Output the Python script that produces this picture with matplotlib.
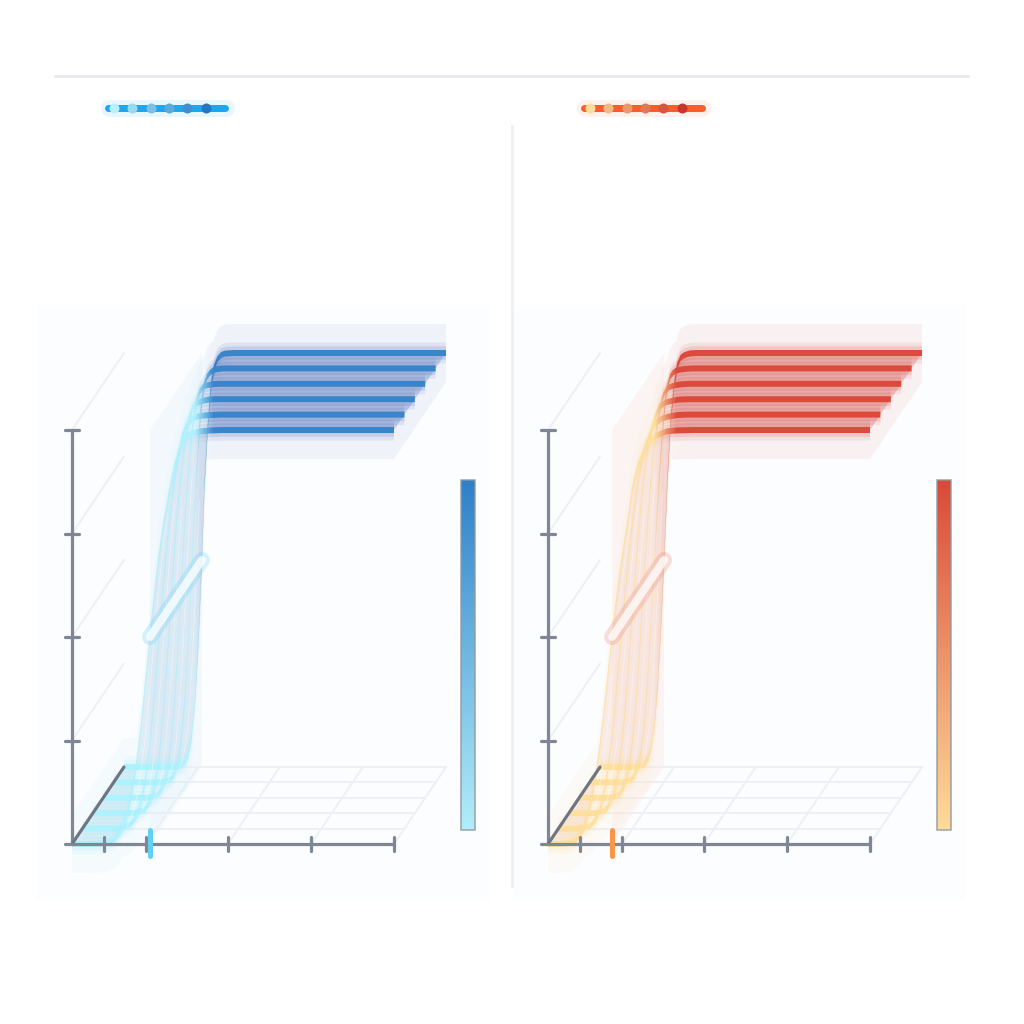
import numpy as np
import matplotlib
matplotlib.use("Agg")
import matplotlib.pyplot as plt
from matplotlib.patches import Polygon, Rectangle
from matplotlib.colors import to_rgb

# ---------- data (dose 0-100, response 0-100) ----------
blue_dose = [0, 6, 10, 13, 15, 16, 17, 18, 19, 20, 21, 22, 23, 24, 25, 26, 27, 28, 29, 30, 31, 32, 34, 36, 38, 40, 43, 47, 52, 60, 100]
blue_d0 = [0, 0, .1, .9, 2.7, 4.3, 6.6, 9.8, 14, 19.3, 25.6, 32.9, 40.6, 48.5, 56.2, 63.2, 69.6, 75, 79.6, 84, 88, 91.5, 97, 98.8, 99.4, 99.7, 99.9, 100, 100, 100, 100]
blue_d1 = [0, 0, 0, .3, 1.1, 1.9, 3.4, 5.7, 9.1, 14.1, 20.6, 28.9, 38.2, 48, 57.7, 66.4, 74.1, 81, 86, 90.5, 94.5, 97, 99, 99.6, 99.8, 99.9, 100, 100, 100, 100, 100]
blue_d2 = [0, 0, 0, .1, .4, .8, 1.7, 3.2, 5.8, 10, 16.4, 25.2, 35.7, 47.8, 59.4, 70, 79, 86, 91.5, 95.5, 98, 98.9, 99.6, 99.9, 100, 100, 100, 100, 100, 100, 100]
blue_d3 = [0, 0, 0, 0, .2, .4, .8, 1.8, 3.7, 7, 12.8, 21.7, 33.4, 47.3, 62, 74, 84, 91, 96, 98.2, 99.2, 99.6, 99.9, 100, 100, 100, 100, 100, 100, 100, 100]
blue_d4 = [0, 0, 0, 0, .1, .2, .4, 1, 2.3, 4.9, 10, 18.7, 31.2, 47, 64, 78, 89, 95.5, 98, 99, 99.6, 99.8, 100, 100, 100, 100, 100, 100, 100, 100, 100]
blue_d5 = [0, 0, 0, 0, 0, .1, .2, .5, 1.3, 3.1, 7.2, 15.3, 28.5, 46.5, 68, 82, 92, 96.5, 98.5, 99.4, 99.8, 99.9, 100, 100, 100, 100, 100, 100, 100, 100, 100]
blue_series = [blue_d0, blue_d1, blue_d2, blue_d3, blue_d4, blue_d5]

red_dose = [0, 3, 5, 7, 9, 10, 11, 12, 13, 14, 15, 16, 17, 18, 19, 20, 21, 22, 23, 24, 25, 26, 27, 28, 30, 32, 34, 37, 40, 45, 52, 60, 100]
red_d0 = [0, 0, .05, .3, 1.2, 2.2, 3.7, 5.8, 8.8, 12.6, 17.4, 23.1, 29.5, 36.6, 43.8, 50.7, 57.4, 63.4, 69, 74, 79, 85, 88.5, 91.5, 95.5, 97.6, 98.8, 99.7, 99.9, 100, 100, 100, 100]
red_d1 = [0, 0, 0, .1, .4, .8, 1.5, 2.8, 4.8, 7.9, 12.1, 17.8, 24.8, 33.2, 42.1, 51, 59.4, 66.8, 73.5, 80, 85, 89, 92, 94.5, 97.8, 99, 99.5, 99.9, 100, 100, 100, 100, 100]
red_d2 = [0, 0, 0, 0, .1, .3, .6, 1.3, 2.6, 4.8, 8.2, 13.6, 20.7, 29.9, 40.4, 51, 61.3, 71, 79, 85.5, 90, 93.5, 96, 98, 99.2, 99.6, 99.9, 100, 100, 100, 100, 100, 100]
red_d3 = [0, 0, 0, 0, 0, .1, .3, .6, 1.4, 2.9, 5.6, 10.2, 17.1, 26.9, 38.7, 51.2, 64, 74, 83, 89.5, 93.5, 97, 98.5, 99.2, 99.7, 99.9, 100, 100, 100, 100, 100, 100, 100]
red_d4 = [0, 0, 0, 0, 0, 0, .1, .3, .7, 1.7, 3.7, 7.5, 14, 24, 37.1, 51.5, 66, 78, 88, 95, 98, 99, 99.5, 99.7, 99.9, 100, 100, 100, 100, 100, 100, 100, 100]
red_d5 = [0, 0, 0, 0, 0, 0, 0, .1, .3, .9, 2.1, 5, 10.6, 20.6, 35, 51.7, 70, 84, 92, 97, 98.8, 99.4, 99.7, 99.9, 100, 100, 100, 100, 100, 100, 100, 100, 100]
red_series = [red_d0, red_d1, red_d2, red_d3, red_d4, red_d5]

x_ticks = [10, 23, 48.4, 74.2, 100]
y_ticks = [25, 50, 75, 100]
depth_levels = [0, 1, 2, 3, 4, 5]
blue_midpoint = 24.2
red_midpoint = 19.9

# ---------- layout ----------
W = 1024
PX_X, PX_Y = 3.22, 4.14          # pixels per data unit
SHEAR_X, SHEAR_Y = 10.4 / PX_X, 15.4 / PX_Y   # data units per depth step
px = 72 / 100                    # one pixel in points

AXIS = "#7f8794"
GRID = "#eef0f5"

plt.rcParams["font.family"] = "DejaVu Sans"
fig = plt.figure(figsize=(10.24, 10.24), dpi=100, facecolor="white")
chrome = fig.add_axes([0, 0, 1, 1], zorder=0)
chrome.set_xlim(0, W); chrome.set_ylim(W, 0); chrome.axis("off")
chrome.set_autoscale_on(False)


def rgba_gradient(lo, hi, alpha, a, b, x0, x1, n=900):
    xs = np.linspace(x0, x1, n)
    t = np.clip((xs - a) / (b - a), 0, 1)[None, :, None]
    lo, hi = np.array(to_rgb(lo))[None, None, :], np.array(to_rgb(hi))[None, None, :]
    rgb = lo * (1 - t) + hi * t
    return np.dstack([rgb, np.full((1, n), alpha)])


def draw_panel(ox, oy, dose, series, midpoint, lo, hi, halo_lo, halo_hi, surf_lo, tick_col, handle_col, handle_alpha, plane_col, grad, surf_alpha):
    ax = fig.add_axes([0, 0, 1, 1], zorder=1)
    ax.set_xlim(-ox / PX_X, (W - ox) / PX_X)
    ax.set_ylim(-(W - oy) / PX_Y, oy / PX_Y)
    ax.axis("off"); ax.set_facecolor("none")
    ax.set_autoscale_on(False)
    dose = np.asarray(dose, float)
    rows = [np.asarray(s, float) for s in series]
    gx0, gx1 = -8.0, 125.0
    ext = (gx0, gx1, -20, 130)
    ny = len(depth_levels) - 1
    Dx, Dy = ny * SHEAR_X, ny * SHEAR_Y

    def gimg(path_xy, alpha, z, c_lo=lo, c_hi=hi):
        patch = Polygon(path_xy, closed=True, fc="none", ec="none", transform=ax.transData, zorder=z)
        ax.add_patch(patch)
        im = ax.imshow(rgba_gradient(c_lo, c_hi, alpha, grad[0], grad[1], gx0, gx1), extent=ext,
                       aspect="auto", interpolation="nearest", zorder=z)
        im.set_clip_path(patch)

    # walls and floor grid
    for v in y_ticks:
        ax.plot([0, Dx], [v, v + Dy], color=GRID, lw=2 * px, zorder=1, solid_capstyle="round")
    for d in depth_levels[1:]:
        ax.plot([d * SHEAR_X, 100 + d * SHEAR_X], [d * SHEAR_Y] * 2, color=GRID, lw=2 * px, zorder=1)
    for t in x_ticks[1:]:
        ax.plot([t, t + Dx], [0, Dy], color=GRID, lw=2 * px, zorder=1)

    # plane at midpoint dose
    ax.add_patch(Polygon([(midpoint, 0), (midpoint, 100), (midpoint + Dx, 100 + Dy), (midpoint + Dx, Dy)],
                         closed=True, fc=plane_col, ec="none", alpha=0.4, zorder=2))

    # outer halo: envelope of all ribbons
    xs = np.linspace(0, 100 + Dx, 1500)
    stack = np.array([np.interp(xs, dose + d * SHEAR_X, r + d * SHEAR_Y, left=np.nan, right=np.nan)
                      for d, r in zip(depth_levels, rows)])
    up = np.nanmax(stack, axis=0)
    lowr = np.nanmin(stack, axis=0)
    up = np.maximum(up, np.where(xs < Dx, xs / SHEAR_X * SHEAR_Y, -1e3))
    lowr = np.minimum(lowr, np.where(xs > 100, 100 + (xs - 100) / SHEAR_X * SHEAR_Y, 1e3))
    H = 29 / PX_Y
    gimg(np.r_[np.c_[xs, up + H], np.c_[xs[::-1], (lowr - H)[::-1]]], 0.07, 3, c_lo=halo_lo, c_hi=halo_hi)

    # surface between first and last ribbons
    a = np.c_[dose, rows[0]]
    b = np.c_[dose + Dx, rows[-1] + Dy]
    gimg(np.r_[a, b[::-1]], surf_alpha, 4, c_lo=surf_lo, c_hi=halo_hi)

    # ribbons, back to front
    z = 5
    for d in depth_levels[::-1]:
        r = rows[d]
        x = dose + d * SHEAR_X
        y = r + d * SHEAR_Y
        for hw, alpha in ((10.5, 0.1), (6.7, 0.16)):
            h = hw / PX_Y
            gimg(np.r_[np.c_[x, y + h], np.c_[x[::-1], (y - h)[::-1]]], alpha, z, c_lo=halo_lo, c_hi=halo_hi)
            z += 0.1
        h = 3.0 / PX_Y
        gimg(np.r_[np.c_[x, y + h], np.c_[x[::-1], (y - h)[::-1]]], 1.0, z)
        z += 0.1

    # fine white wires between ribbons on the riser
    for d in depth_levels[:-1]:
        for frac in (0.5,):
            rm = rows[d] * (1 - frac) + rows[d + 1] * frac
            keep = (rm > 1) & (rm < 80)
            ax.plot((dose + (d + frac) * SHEAR_X)[keep], (rm + (d + frac) * SHEAR_Y)[keep],
                    color="white", lw=0.6 * px, alpha=0.55, zorder=z)

    # midpoint handle
    ax.plot([midpoint, midpoint + Dx], [50, 50 + Dy], color=handle_col, lw=16 * px, alpha=handle_alpha,
            solid_capstyle="round", zorder=20)
    ax.plot([midpoint, midpoint + Dx], [50, 50 + Dy], color="white", lw=8 * px, alpha=0.78,
            solid_capstyle="round", zorder=21)

    # axes
    kw = dict(color=AXIS, lw=3.2 * px, solid_capstyle="round", zorder=22)
    ax.plot([0, 100], [0, 0], **kw)
    ax.plot([0, 0], [0, 100], **kw)
    ax.plot([0, Dx], [0, Dy], color="#6f7682", lw=3.2 * px, solid_capstyle="round", zorder=22)
    tx, ty = 7 / PX_X, 7 / PX_Y
    ax.plot([-tx, 0], [0, 0], **kw)
    for t in x_ticks:
        ax.plot([t, t], [-ty, ty], **kw)
    for v in y_ticks:
        ax.plot([-tx, tx], [v, v], **kw)
    ax.plot([midpoint, midpoint], [-12 / PX_Y, 14 / PX_Y], color=tick_col, lw=5 * px,
            solid_capstyle="round", zorder=23)
    return ax


# ---------- page chrome ----------
for x0, x1 in ((37, 490), (513, 965)):
    chrome.add_patch(Rectangle((x0, 305), x1 - x0, 595, fc="#fcfdfe", ec="none", zorder=0))
chrome.plot([55, 968], [76, 76], color="#e7e9ef", lw=3 * px, solid_capstyle="round", zorder=1)
chrome.plot([512, 512], [126, 886], color="#f0f1f4", lw=3 * px, zorder=1)


def pill(x0, x1, line_x0, line_x1, bg, col, dots, dot_lo, dot_hi):
    chrome.plot([x0 + 8.5, x1 - 8.5], [107.5, 107.5], color=bg, lw=17 * px, solid_capstyle="round", zorder=2)
    chrome.plot([line_x0, line_x1], [107.5, 107.5], color=col, lw=7 * px, solid_capstyle="round", zorder=3)
    lo, hi = np.array(to_rgb(dot_lo)), np.array(to_rgb(dot_hi))
    for i, dx in enumerate(dots):
        chrome.scatter([dx], [107.5], s=(10 * px) ** 2, color=[lo + (hi - lo) * i / (len(dots) - 1)],
                       linewidths=0, zorder=4)


pill(100, 234, 107.5, 224.5, "#e6f8fe", "#21a6ee", [114, 132, 151, 169, 187, 206], "#b4f2fc", "#2378c6")
pill(576, 710, 583.5, 701.5, "#fef0ea", "#f45f2d", [590, 608, 627, 645, 663, 682], "#fedc9a", "#c8352a")


def colorbar(x0, lo, hi):
    g = np.linspace(0, 1, 350)[:, None, None]
    l, h = np.array(to_rgb(lo))[None, None, :], np.array(to_rgb(hi))[None, None, :]
    chrome.imshow(h * (1 - g) + l * g, extent=(x0, x0 + 14, 830, 480), aspect="auto", zorder=3)
    chrome.add_patch(Rectangle((x0, 480), 14, 350, fc="none", ec="#8f98a3", lw=1.6 * px, alpha=0.85, zorder=4))


colorbar(461, "#b2eefa", "#2e80c8")
colorbar(937, "#fedc9a", "#da4a38")

draw_panel(72, 844, blue_dose, blue_series, blue_midpoint, "#aef2fe", "#3a84ca", "#a0ecfb", "#3f62b4", "#a8c4e0",
           "#62cff7", "#62cff7", 0.26, "#e6f2fc", (38, 44), 0.27)
draw_panel(548, 844, red_dose, red_series, red_midpoint, "#fedf9e", "#dc4a3c", "#fddc9a", "#d2463c", "#f0c4b4",
           "#fb9648", "#ef8a70", 0.28, "#fde8e0", (33, 40), 0.27)

fig.savefig("out.png", dpi=100, facecolor="white")
